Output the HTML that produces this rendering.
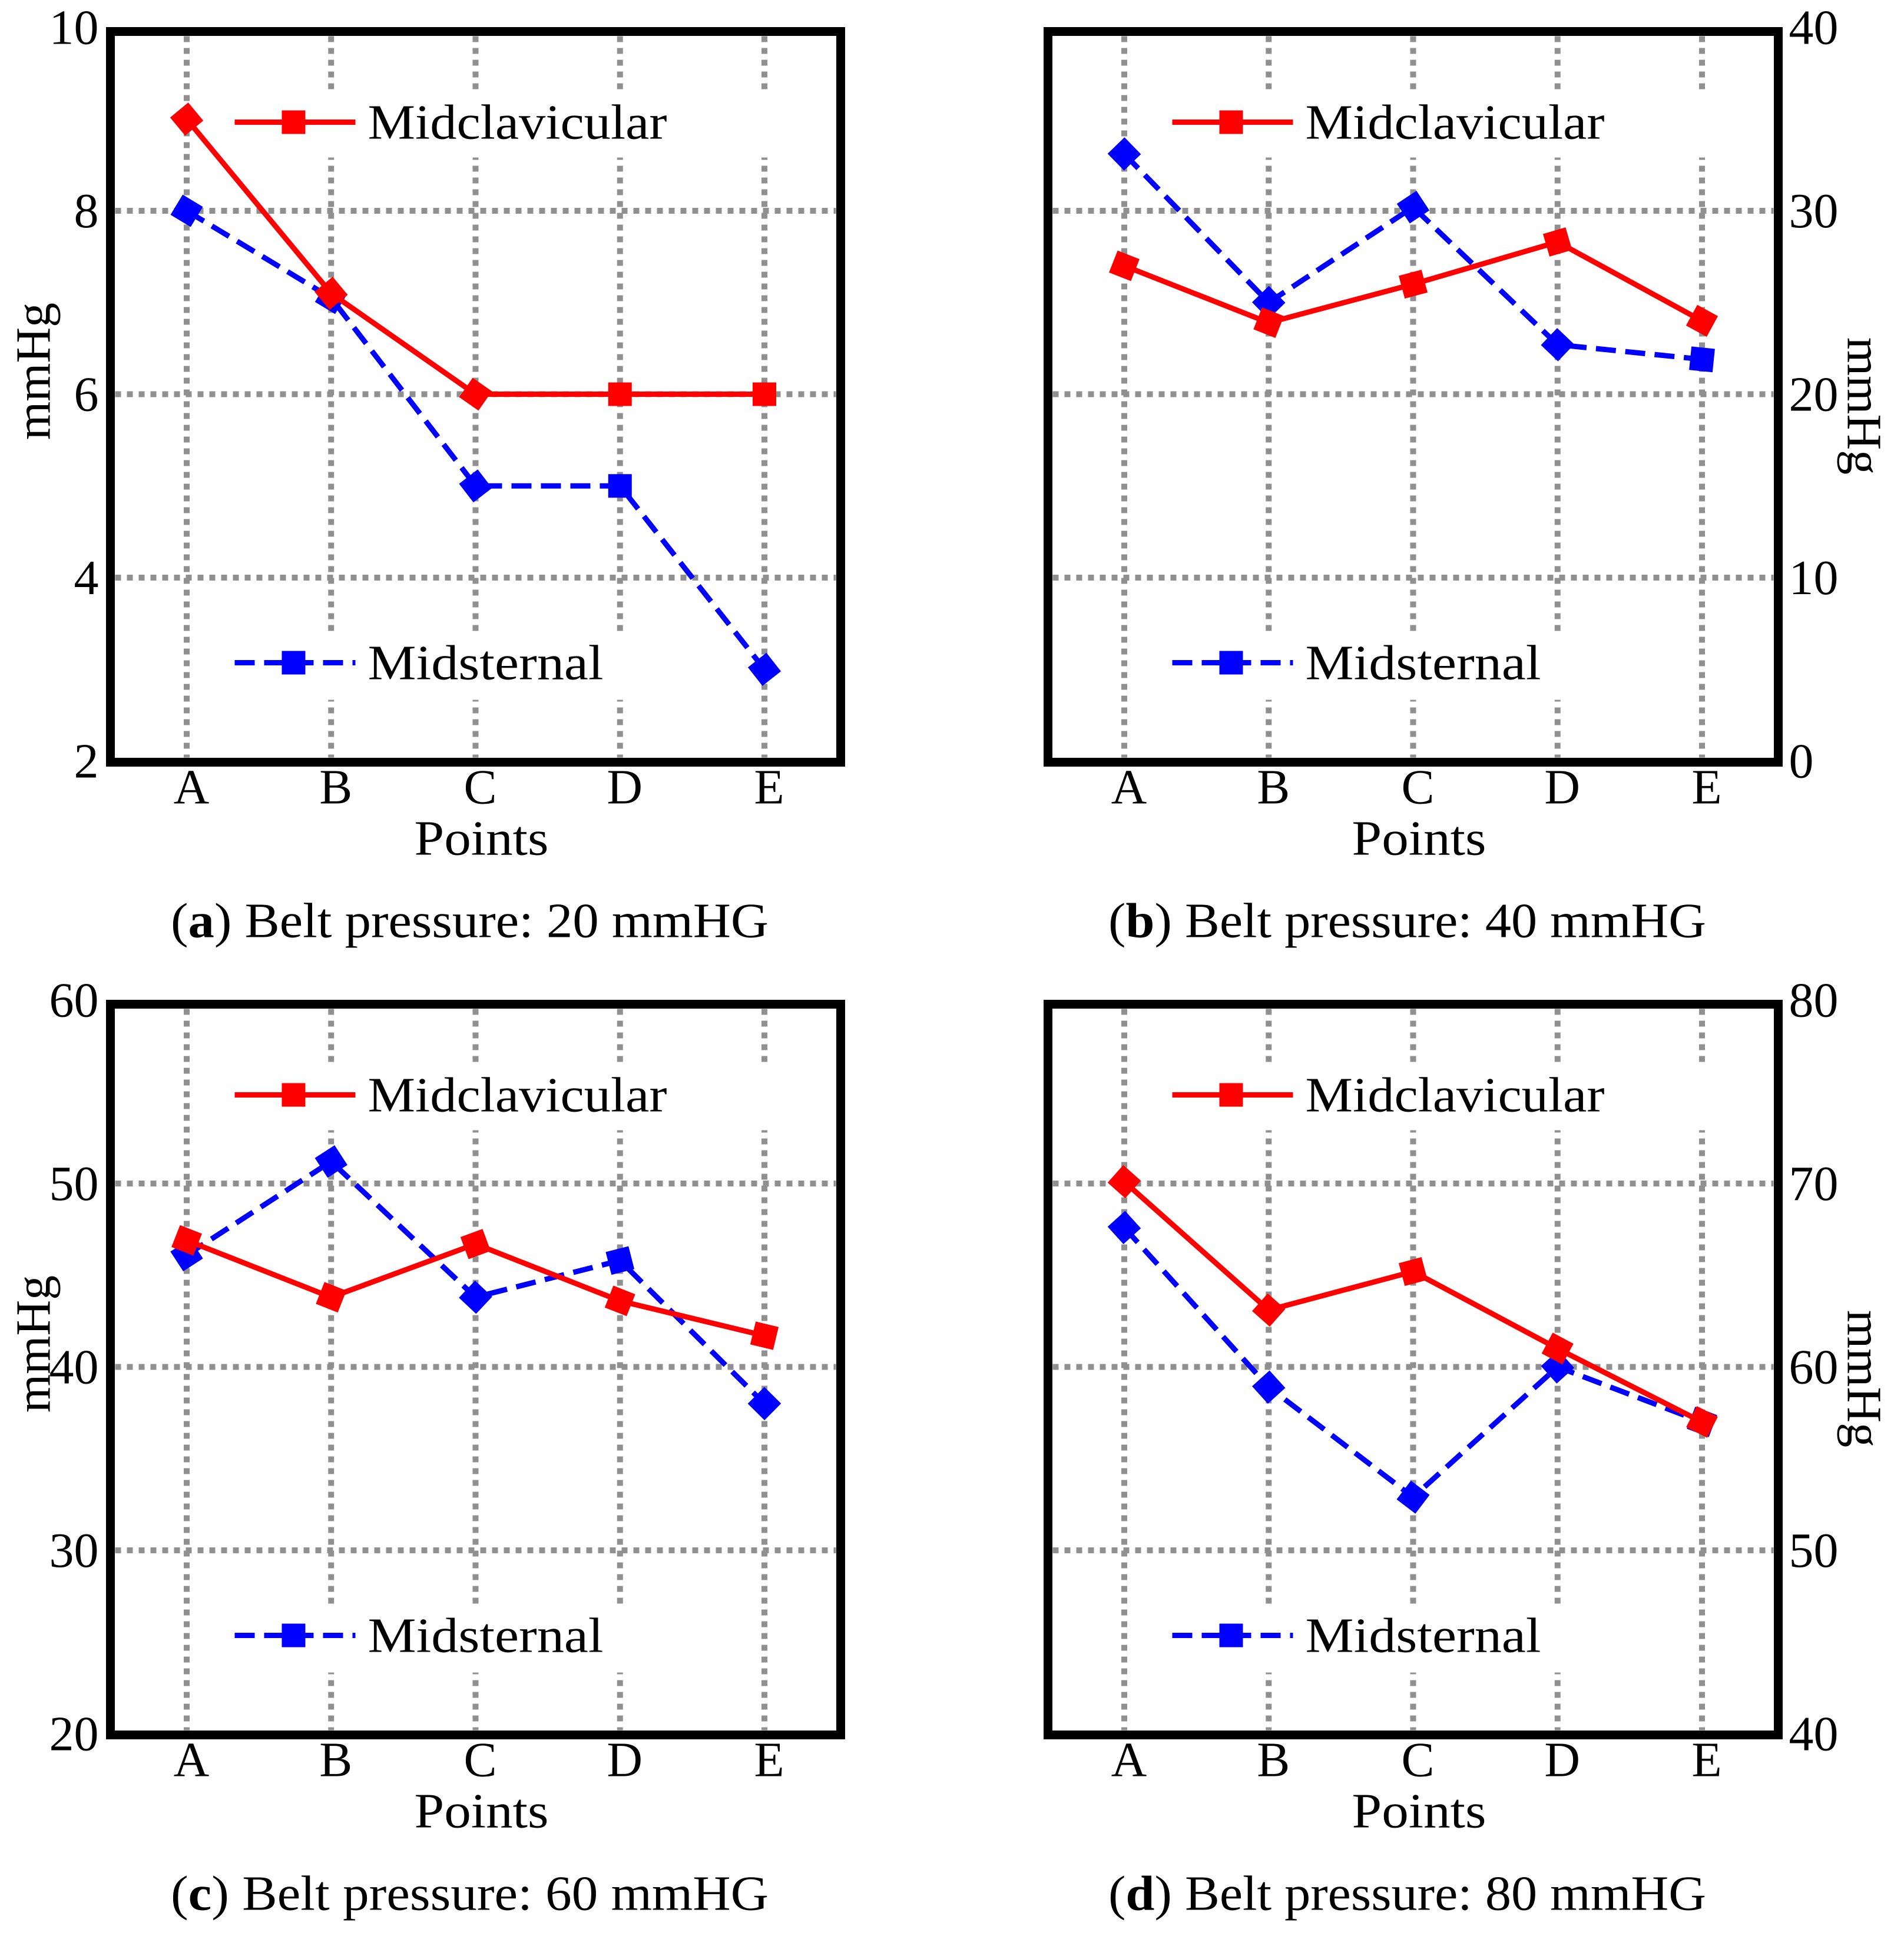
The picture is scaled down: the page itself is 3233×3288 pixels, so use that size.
<!DOCTYPE html>
<html><head><meta charset="utf-8"><style>
html,body{margin:0;padding:0;background:#fff;}
svg{display:block;}
svg text{font-family:"Liberation Serif","DejaVu Serif",serif;fill:#000;}
</style></head><body>
<svg id="fig" width="3233" height="3288" viewBox="0 0 3233 3288" xmlns="http://www.w3.org/2000/svg" font-family="Liberation Serif, serif"></svg>
<script>
const categories = ["A","B","C","D","E"];
const captionsLetters = ["a","b","c","d"];
const captionPressures = ["20","40","60","80"];
const yMins = [2, 0, 20, 40];
const yMaxs = [10, 40, 60, 80];
const yTicksA = [2,4,6,8,10];
const yTicksB = [0,10,20,30,40];
const yTicksC = [20,30,40,50,60];
const yTicksD = [40,50,60,70,80];
const midclavA = [9, 7.1, 6, 6, 6];
const midsternA = [8, 7.05, 5, 5, 3];
const midclavB = [27.0, 23.9, 26.0, 28.3, 24.0];
const midsternB = [33.1, 25.0, 30.2, 22.7, 21.9];
const midclavC = [46.9, 43.8, 46.7, 43.6, 41.7];
const midsternC = [46.1, 51.2, 43.8, 45.8, 38.0];
const midclavD = [70.1, 63.1, 65.2, 61.0, 57.0];
const midsternD = [67.6, 58.9, 52.9, 60.0, 57.0];

const NS="http://www.w3.org/2000/svg";
const svg=document.getElementById('fig');
function mk(tag,attrs,parent){const e=document.createElementNS(NS,tag);for(const k in attrs)e.setAttribute(k,attrs[k]);if(tag==='text'){e.setAttribute('font-family','Liberation Serif, serif');}(parent||svg).appendChild(e);return e;}

const panels=[
 {left:187.5, top:53.5, ticks:yTicksA, red:midclavA, blue:midsternA, right:false},
 {left:1779.5, top:53.5, ticks:yTicksB, red:midclavB, blue:midsternB, right:true},
 {left:187.5, top:1705.5, ticks:yTicksC, red:midclavC, blue:midsternC, right:false},
 {left:1779.5, top:1705.5, ticks:yTicksD, red:midclavD, blue:midsternD, right:true}
];
const W=1240,H=1241;

panels.forEach((p,i)=>{
  const g=mk('g',{});
  
  
  const yMin=yMins[i], yMax=yMaxs[i];
  const y0=p.top-7, y1=p.top+H-2;
  const ys=v=>y1-(v-yMin)/(yMax-yMin)*(y1-y0);
  const xs=k=>p.left+129.5+k*245.25;
  const grid=mk('g',{},g);
  
  
  p.ticks.forEach(t=>{ if(t===yMin||t===yMax) return;
    const l=mk('line',{x1:p.left+8,x2:p.left+W-8,y1:ys(t),y2:ys(t),stroke:'#909090','stroke-width':10,'stroke-dasharray':'10 10'},grid);
    
    
  });
  categories.forEach((c,k)=>{
    const l=mk('line',{x1:xs(k),x2:xs(k),y1:p.top+8,y2:p.top+H-8,stroke:'#909090','stroke-width':10,'stroke-dasharray':'10 10'},grid);
    
    
  });
  const lb1=mk('rect',{x:p.left+198,y:p.top+104,width:960,height:110,fill:'#fff'},g);
  
  
  const lb2=mk('rect',{x:p.left+198,y:p.top+1025,width:850,height:110,fill:'#fff'},g);
  
  
  function series(vals,color,dash,name){
    const sg=mk('g',{},g);
    
    
    const pts=vals.map((v,k)=>[xs(k),ys(v)]);
    const pl=mk('polyline',{points:pts.map(q=>q.join(',')).join(' '),fill:'none',stroke:color,'stroke-width':9,'stroke-dasharray':dash||'none','stroke-linejoin':'round'},sg);
    
    
    pts.forEach((q,k)=>{
      const a=k===0?pts[1]:pts[k-1], b=k===0?pts[0]:pts[k];
      const ang=Math.atan2(k===0?a[1]-b[1]:b[1]-a[1], k===0?a[0]-b[0]:b[0]-a[0])*180/Math.PI;
      const m=mk('rect',{x:q[0]-20,y:q[1]-20,width:40,height:40,fill:color,transform:`rotate(${ang} ${q[0]} ${q[1]})`},sg);
      
      
    });
  }
  series(p.blue,'#0000ff','34 16','midsternal-series');
  series(p.red,'#ff0000',null,'midclavicular-series');
  function legend(y,color,dash,label,name,len){
    const lg=mk('g',{},g);
    
    
    mk('line',{x1:p.left+211,x2:p.left+416,y1:y,y2:y,stroke:color,'stroke-width':9,'stroke-dasharray':dash||'none'},lg);
    mk('rect',{x:p.left+291,y:y-20,width:40,height:40,fill:color},lg);
    const t=mk('text',{x:p.left+437,y:y+28,'font-size':84,textLength:len,lengthAdjust:'spacingAndGlyphs'},lg);
    t.textContent=label;
  }
  legend(p.top+154,'#ff0000',null,'Midclavicular','legend-entry-midclavicular',508);
  legend(p.top+1072,'#0000ff','34 16','Midsternal','legend-entry-midsternal',400);
  const fr=mk('rect',{x:p.left,y:p.top,width:W,height:H,fill:'none',stroke:'#000','stroke-width':15},g);
  
  
  p.ticks.forEach(t=>{
    const tx=mk('text',{x:p.right?p.left+W+18:p.left-20,y:ys(t)+28,'font-size':84,'text-anchor':p.right?'start':'end'},g);
    
    
    tx.textContent=t;
  });
  categories.forEach((c,k)=>{
    const tx=mk('text',{x:xs(k)+8,y:p.top+1311,'font-size':84,'text-anchor':'middle'},g);
    
    
    tx.textContent=c;
  });
  const xt=mk('text',{x:p.left+W/2+10,y:p.top+1398,'font-size':84,'text-anchor':'middle',textLength:228,lengthAdjust:'spacingAndGlyphs'},g);
  
  
  xt.textContent='Points';
  let yt;
  if(p.right){
    const cx=p.left+W+118, cy=p.top+636;
    yt=mk('text',{x:cx,y:cy,'font-size':84,'text-anchor':'middle',transform:`rotate(90 ${cx} ${cy})`},g);
  } else {
    const cx=p.left-103, cy=p.top+577;
    yt=mk('text',{x:cx,y:cy,'font-size':84,'text-anchor':'middle',transform:`rotate(-90 ${cx} ${cy})`},g);
  }
  
  
  yt.textContent='mmHg';
  const cap=mk('text',{x:p.left+W/2-10,y:p.top+1538,'font-size':84,'text-anchor':'middle',textLength:1015,lengthAdjust:'spacingAndGlyphs'},g);
  
  
  cap.innerHTML='(<tspan font-weight="bold">'+captionsLetters[i]+'</tspan>) Belt pressure: '+captionPressures[i]+' mmHG';
});
</script>
</body></html>
